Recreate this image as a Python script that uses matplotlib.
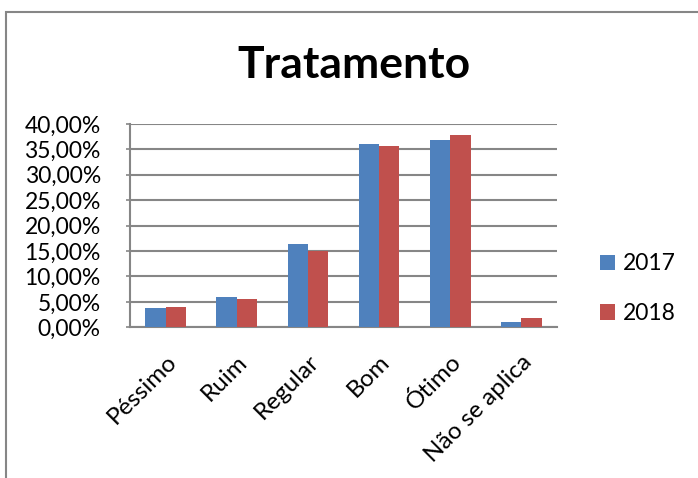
import matplotlib
matplotlib.use('Agg')

import numpy as np
import matplotlib.pyplot as plt
from matplotlib.patches import Rectangle
from matplotlib.ticker import FuncFormatter

categories = ['Péssimo', 'Ruim', 'Regular', 'Bom', 'Ótimo', 'Não se aplica']
vals_2017 = [3.8, 6.0, 16.3, 36.0, 36.9, 1.0]
vals_2018 = [4.0, 5.6, 15.1, 35.6, 37.8, 1.9]
series_names = ['2017', '2018']
title = 'Tratamento'

plt.rcParams['font.family'] = ['Lato', 'DejaVu Sans']

fig = plt.figure(figsize=(6.98, 4.78), dpi=100)
ax = fig.add_axes([0.1862, 0.3153, 0.6118, 0.4253])

x = np.arange(len(categories))
w = 0.285
ax.bar(x - w / 2, vals_2017, w, color='#4F81BD', label=series_names[0], zorder=3)
ax.bar(x + w / 2, vals_2018, w, color='#C0504D', label=series_names[1], zorder=3)

ax.set_xlim(-0.5, len(categories) - 0.5)
ax.set_ylim(0, 40)
ax.set_yticks(np.arange(0, 41, 5))
ax.yaxis.set_major_formatter(FuncFormatter(lambda v, p: f'{v:.2f}'.replace('.', ',') + '%'))
ax.grid(axis='y', color='#868686', linewidth=1.5, zorder=0)

ax.set_xticks(x)
ax.set_xticklabels(categories, rotation=45, ha='right', rotation_mode='anchor')
ax.tick_params(axis='x', length=0, pad=17, labelsize=17.5)
ax.tick_params(axis='y', length=3, color='#868686', width=1.2, pad=18, labelsize=16.5)

for side in ['top', 'right']:
    ax.spines[side].set_visible(False)
for side in ['left', 'bottom']:
    ax.spines[side].set_color('#868686')
    ax.spines[side].set_linewidth(1.5)

ax.legend(loc='center left', bbox_to_anchor=(1.052, 0.19), frameon=False,
          fontsize=16.5, handlelength=0.65, handleheight=0.65, handletextpad=0.35,
          labelspacing=1.25)

fig.text(354 / 698, 1 - 78 / 478, title, ha='center', va='baseline',
         fontsize=32, fontweight='bold')

# chart border (cut off at right and bottom in the original)
fig.patches.append(Rectangle((6 / 698, -0.1), 1.2, 1 - 12 / 478 + 0.1,
                             transform=fig.transFigure, fill=False,
                             edgecolor='#868686', linewidth=1.5))

fig.savefig('out.png', dpi=100)
